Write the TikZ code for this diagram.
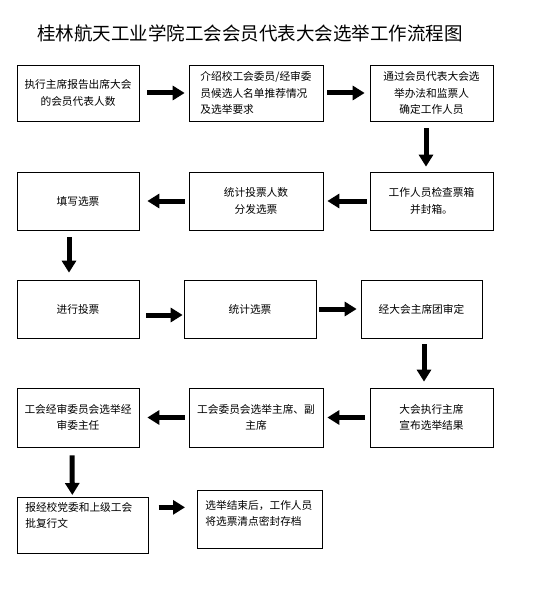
\documentclass[tikz,border=0pt]{standalone}
\usepackage{fontspec}
\setmainfont{Noto Sans CJK SC}
\usetikzlibrary{positioning, arrows.meta}

\begin{document}
\begin{tikzpicture}[x=1pt,y=-1pt,
    stepbox/.style={draw,line width=0.7pt,inner sep=0pt,align=center,
                    font=\fontsize{10.7}{16.5}\selectfont},
    flow/.style={line width=5pt,-{Triangle[length=12pt,width=14pt]},
                 shorten <=6pt,shorten >=5pt}]
  \useasboundingbox (0,0) rectangle (535,591);
  \node[font=\fontsize{18.5}{22}\selectfont] (title) at (250,33)
       {桂林航天工业学院工会会员代表大会选举工作流程图};
  % row 1
  \node[stepbox,minimum width=122,minimum height=56] (b1) at (78,93)
       {执行主席报告出席大会\\的会员代表人数};
  \node[stepbox,minimum width=134,minimum height=56,align=left] (b2) at (256,93)
       {介绍校工会委员/经审委\\员候选人名单推荐情况\\及选举要求};
  \node[stepbox,minimum width=123,minimum height=56] (b3) at (431.5,93)
       {通过会员代表大会选\\举办法和监票人\\确定工作人员};
  \draw[flow,shorten <=8pt,shorten >=4pt](b1)--(b2);
  \draw[flow,shorten <=4pt,shorten >=5pt](b2)--(b3);
  % row 2
  \node[stepbox,minimum width=123,minimum height=58] (b4) at (431.5,201)
       {工作人员检查票箱\\并封箱。};
  \node[stepbox,minimum width=134,minimum height=58] (b5) at (256,201)
       {统计投票人数\\分发选票};
  \node[stepbox,minimum width=122,minimum height=58] (b6) at (78,201)
       {填写选票};
  \draw[flow,shorten <=7pt](
       [xshift=-5.5pt]b3.south)--([xshift=-5.5pt]b4.north);
  \draw[flow,shorten <=3pt,shorten >=4pt](b4)--(b5);
  \draw[flow,shorten <=4pt,shorten >=8pt](b5)--(b6);
  % row 3
  \node[stepbox,minimum width=122,minimum height=58] (b7) at (78,309)
       {进行投票};
  \node[stepbox,minimum width=132,minimum height=58] (b8) at (250,309)
       {统计选票};
  \node[stepbox,minimum width=121,minimum height=58] (b9) at (421.5,309)
       {经大会主席团审定};
  \draw[flow,shorten <=7pt,shorten >=7pt](
       [xshift=-9pt]b6.south)--([xshift=-9pt]b7.north);
  \draw[flow,shorten <=7pt,shorten >=1pt](
       [yshift=-6pt]b7.east)--([yshift=-6pt]b8.west);
  \draw[flow,shorten <=3pt,shorten >=4pt](b8)--(b9);
  % row 4
  \node[stepbox,minimum width=123,minimum height=59] (b10) at (431.5,417.5)
       {大会执行主席\\宣布选举结果};
  \node[stepbox,minimum width=134,minimum height=59] (b11) at (256,417.5)
       {工会委员会选举主席、副\\主席};
  \node[stepbox,minimum width=122,minimum height=59] (b12) at (78,417.5)
       {工会经审委员会选举经\\审委主任};
  \draw[flow,shorten <=6pt,shorten >=6pt](
       [xshift=2.5pt]b9.south)--([xshift=-7.5pt]b10.north);
  \draw[flow,shorten <=5pt,shorten >=4pt](b10)--(b11);
  \draw[flow,shorten <=4pt,shorten >=8pt](b11)--(b12);
  % row 5
  \node[stepbox,anchor=north west,align=left] (b13) at (17,497)
       {\parbox[c][56pt][t]{131pt}{\hspace{8pt}\parbox[t]{120pt}{\vspace{5pt}
        报经校党委和上级工会\\批复行文}}};
  \node[stepbox,anchor=north west,align=left] (b14) at (197,490)
       {\parbox[c][58pt][t]{125pt}{\hspace{8pt}\parbox[t]{115pt}{\vspace{10pt}
        选举结束后，工作人员\\将选票清点密封存档}}};
  \draw[flow,shorten <=8pt,shorten >=2pt](
       [xshift=-6pt]b12.south)--([xshift=-10.5pt]b13.north);
  \draw[flow,shorten <=10pt,shorten >=12pt](
       [yshift=18pt]b13.east)--([yshift=12pt]b14.west);
\end{tikzpicture}
\end{document}
